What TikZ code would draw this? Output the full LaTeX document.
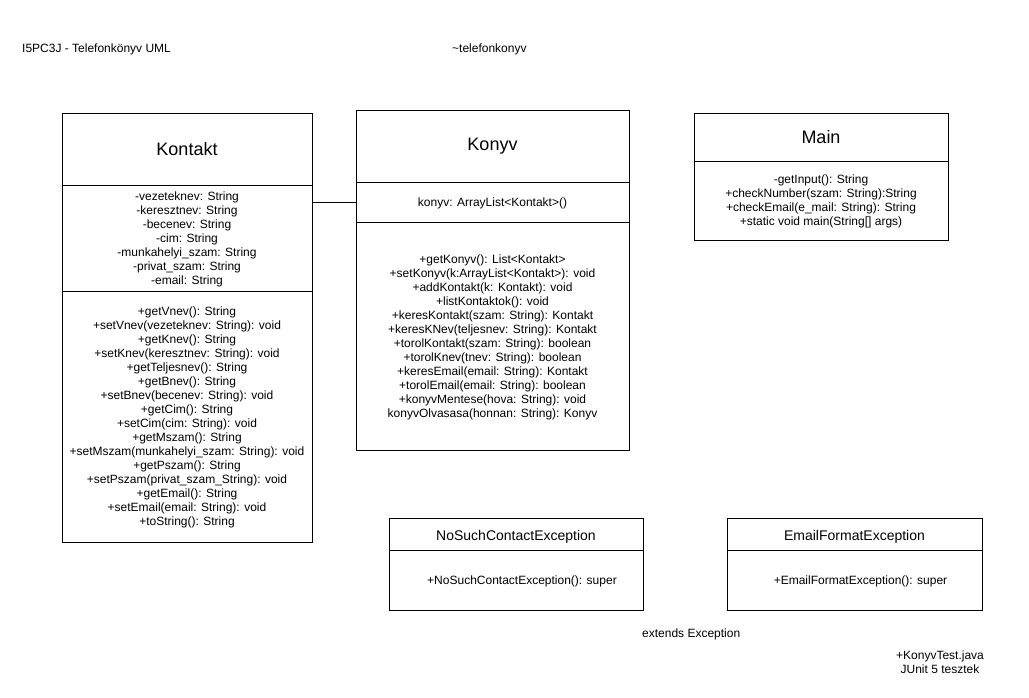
\documentclass[tikz,border=0pt]{standalone}
\usepackage{fontspec}
\setmainfont{Liberation Sans}
\usetikzlibrary{positioning}
\tikzset{
    classname/.style={
        rectangle, draw=black, line width=0.8pt, inner sep=0pt, outer sep=0pt, text centered, font=\fontsize{18}{22}\selectfont
    },
    exname/.style={
        classname, text height=15pt, text depth=3pt, font=\fontsize{14}{17}\selectfont
    },
    classbody/.style={
        rectangle, draw=black, line width=0.8pt, inner sep=0pt, outer sep=0pt, align=center, text depth=-2pt, font=\fontsize{12}{14}\selectfont
    },
    exbody/.style={
        classbody, execute at begin node={\hspace*{12pt}}
    },
    freetext/.style={
        inner sep=0pt, align=center, font=\fontsize{12}{14}\selectfont
    }
}

\begin{document}
\begin{tikzpicture}[x=1pt, y=-1pt]
    \useasboundingbox (0,0) rectangle (1029,697);

    % Headings
    \node (title) [freetext, anchor=west] at (22,49) {I5PC3J - Telefonkönyv UML};
    \node (package) [freetext, anchor=west] at (452,49) {\char`\~telefonkonyv};

    % Kontakt
    \node (kontakt) [classname, minimum width=250, minimum height=72, anchor=north west] at (62,113) {Kontakt};
    \node (kontaktattr) [classbody, minimum width=250, minimum height=106, below=0pt of kontakt] {-vezeteknev: String\\-keresztnev: String\\-becenev: String\\-cim: String\\-munkahelyi\_szam: String\\-privat\_szam: String\\-email: String};
    \node (kontaktops) [classbody, minimum width=250, minimum height=251, below=0pt of kontaktattr] {+getVnev(): String\\+setVnev(vezeteknev: String): void\\+getKnev(): String\\+setKnev(keresztnev: String): void\\+getTeljesnev(): String\\+getBnev(): String\\+setBnev(becenev: String): void\\+getCim(): String\\+setCim(cim: String): void\\+getMszam(): String\\+setMszam(munkahelyi\_szam: String): void\\+getPszam(): String\\+setPszam(privat\_szam\_String): void\\+getEmail(): String\\+setEmail(email: String): void\\+toString(): String};

    % Konyv
    \node (konyv) [classname, minimum width=273, minimum height=72, anchor=north west] at (356,110) {Konyv};
    \node (konyvattr) [classbody, minimum width=273, minimum height=40, below=0pt of konyv] {konyv: ArrayList<Kontakt>()};
    \node (konyvops) [classbody, minimum width=273, minimum height=228, below=0pt of konyvattr] {+getKonyv(): List<Kontakt>\\+setKonyv(k:ArrayList<Kontakt>): void\\+addKontakt(k: Kontakt): void\\+listKontaktok(): void\\+keresKontakt(szam: String): Kontakt\\+keresKNev(teljesnev: String): Kontakt\\+torolKontakt(szam: String): boolean\\+torolKnev(tnev: String): boolean\\+keresEmail(email: String): Kontakt\\+torolEmail(email: String): boolean\\+konyvMentese(hova: String): void\\konyvOlvasasa(honnan: String): Konyv};

    % Main
    \node (main) [classname, minimum width=254, minimum height=48, anchor=north west] at (694,113) {Main};
    \node (mainops) [classbody, minimum width=254, minimum height=79, below=0pt of main] {-getInput(): String\\+checkNumber(szam: String):String\\+checkEmail(e\_mail: String): String\\+static void main(String[] args)};

    % Exceptions
    \node (nosuch) [exname, minimum width=254, minimum height=32, anchor=north west] at (389,518) {NoSuchContactException};
    \node (nosuchops) [exbody, minimum width=254, minimum height=60, below=0pt of nosuch] {+NoSuchContactException(): super};
    \node (emailex) [exname, minimum width=255, minimum height=32, anchor=north west] at (727,518) {EmailFormatException};
    \node (emailexops) [exbody, minimum width=255, minimum height=60, below=0pt of emailex] {+EmailFormatException(): super};

    \node (extends) [freetext, anchor=west] at (642,634) {extends Exception};
    \node (tests) [freetext] at (940,662) {+KonyvTest.java\\JUnit 5 tesztek};

    % Connections
    \draw [line width=0.8pt] (kontaktattr.east |- konyvattr.west) -- (konyvattr.west);
\end{tikzpicture}
\end{document}
